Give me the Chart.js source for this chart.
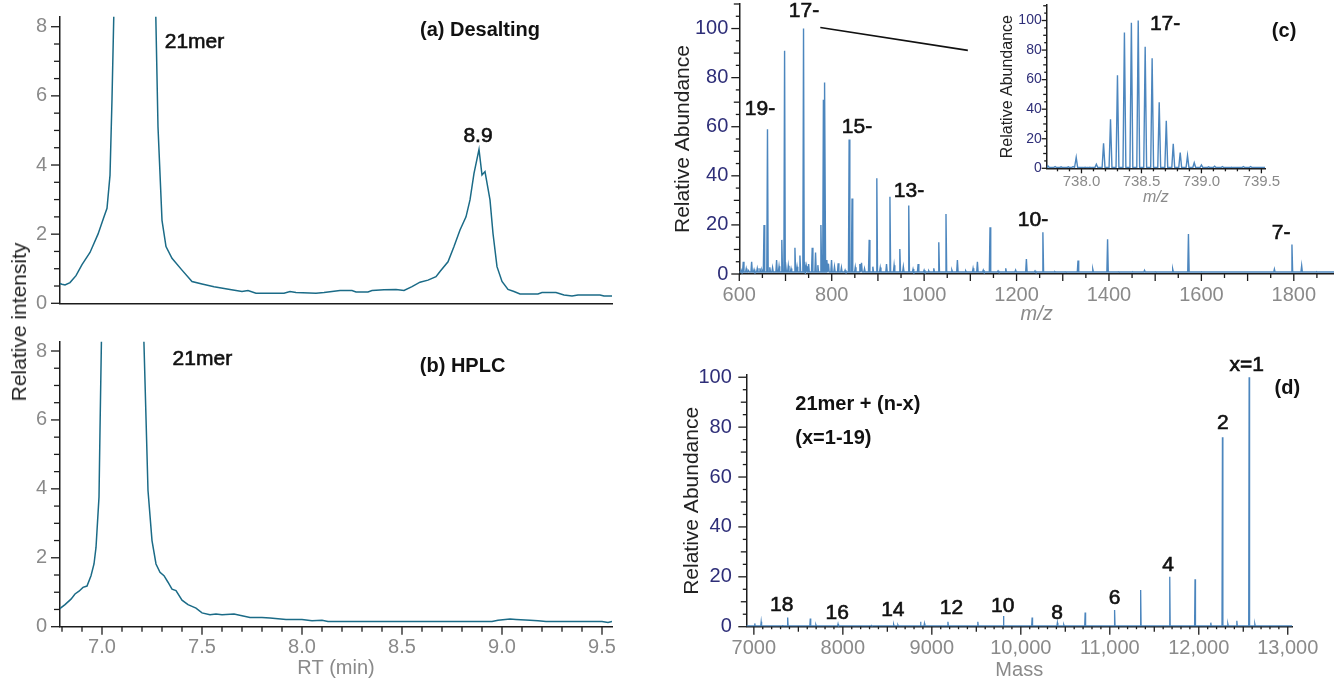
<!DOCTYPE html>
<html>
<head>
<meta charset="utf-8">
<script src="https://cdn.jsdelivr.net/npm/chart.js@4.4.1/dist/chart.umd.min.js"></script>
<style>
  html, body { margin: 0; padding: 0; background: #fff; overflow: hidden; }
  #fig { position: relative; width: 1334px; height: 678px; overflow: hidden; font-family: 'Liberation Sans', Arial, sans-serif; }
  #fig canvas { position: absolute; }
  #ylab-ab { position: absolute; left: 19px; top: 322px; transform: translate(-50%, -50%) rotate(-90deg); font-size: 21px; color: #222; white-space: nowrap; }
</style>
</head>
<body>
<div id="fig">
  <canvas id="chart-a" width="620" height="310" style="left:0px;top:0px"></canvas>
  <canvas id="chart-b" width="620" height="355" style="left:0px;top:325px"></canvas>
  <canvas id="chart-c" width="674" height="326" style="left:660px;top:0px"></canvas>
  <canvas id="chart-c-inset" width="300" height="207" style="left:990px;top:0px"></canvas>
  <canvas id="chart-d" width="674" height="342" style="left:660px;top:340px"></canvas>
  <div id="ylab-ab">Relative intensity</div>
</div>
<script>
// ---- data ----

// (a) desalting: retention time (min) vs relative intensity, main peak runs off scale
const rtA = [6.785, 6.80, 6.815, 6.84, 6.87, 6.90, 6.94, 6.98, 7.01, 7.025, 7.04, 7.05, 7.06, 7.16, 7.268,
  7.28, 7.30, 7.32, 7.35, 7.40, 7.45, 7.50, 7.56, 7.64, 7.70, 7.73, 7.77, 7.91, 7.94, 7.97, 8.07, 8.11,
  8.19, 8.25, 8.27, 8.33, 8.35, 8.41, 8.47, 8.51, 8.55, 8.59, 8.63, 8.67, 8.69, 8.73, 8.76, 8.79, 8.82,
  8.84, 8.86, 8.885, 8.90, 8.915, 8.94, 8.955, 8.975, 9.00, 9.03, 9.06, 9.09, 9.18, 9.20, 9.27, 9.31,
  9.35, 9.38, 9.49, 9.51, 9.55];
const intA = [0.58, 0.55, 0.53, 0.60, 0.80, 1.12, 1.47, 2.0, 2.5, 2.75, 3.7, 5.9, 8.6, 60, 8.6,
  5.1, 2.4, 1.64, 1.3, 0.96, 0.63, 0.56, 0.48, 0.40, 0.34, 0.37, 0.29, 0.29, 0.34, 0.31, 0.29, 0.31,
  0.37, 0.37, 0.33, 0.33, 0.37, 0.39, 0.40, 0.37, 0.48, 0.61, 0.67, 0.77, 0.92, 1.20, 1.64, 2.12, 2.5,
  2.99, 3.76, 4.45, 3.71, 3.81, 2.99, 2.02, 1.06, 0.63, 0.40, 0.34, 0.27, 0.27, 0.31, 0.31, 0.24,
  0.21, 0.24, 0.24, 0.21, 0.21];

// (b) HPLC
const rtB = [6.786, 6.815, 6.845, 6.865, 6.885, 6.905, 6.925, 6.945, 6.96, 6.97, 6.985, 6.99, 6.998, 7.10,
  7.208, 7.23, 7.25, 7.27, 7.29, 7.31, 7.33, 7.35, 7.37, 7.40, 7.43, 7.47, 7.50, 7.54, 7.57, 7.60, 7.66,
  7.70, 7.74, 7.80, 7.84, 7.92, 8.00, 8.05, 8.10, 8.13, 8.95, 8.98, 9.04, 9.07, 9.14, 9.18, 9.22, 9.50,
  9.53, 9.55];
const intB = [0.51, 0.64, 0.80, 0.95, 1.03, 1.14, 1.18, 1.48, 1.82, 2.3, 3.76, 5.7, 8.6, 60,
  8.6, 3.95, 2.5, 1.82, 1.58, 1.48, 1.29, 1.09, 1.05, 0.77, 0.64, 0.54, 0.40, 0.35, 0.37, 0.35, 0.37,
  0.32, 0.27, 0.27, 0.25, 0.21, 0.21, 0.17, 0.19, 0.15, 0.15, 0.19, 0.22, 0.21, 0.19, 0.17, 0.15, 0.15,
  0.12, 0.15];

// (c) ESI spectrum: peak m/z and relative abundance
const mzC = [604, 608.6, 615, 620, 626.7, 632, 638.9, 644.7, 649, 653.5, 661, 666, 672, 680.7, 686, 692,
  698, 700.5, 706, 712, 720.4, 725, 731.2, 739, 741.5, 745, 750, 757.8, 765, 770, 776.6, 782, 785.3,
  789.5, 793, 799.6, 806, 814, 821, 829, 837.7, 844, 851, 860.9, 864.5, 871, 881.1, 889, 897.6, 905,
  918.6, 926, 935, 947.4, 955, 966.7, 976, 987, 1000, 1010, 1020.9, 1031.7, 1047.3, 1060, 1072, 1090,
  1105.9, 1115.3, 1128, 1142.6, 1160, 1176.6, 1198, 1221.3, 1240, 1257, 1283, 1305, 1333, 1365, 1397,
  1420, 1452, 1477, 1500, 1538, 1572, 1600, 1652, 1700, 1758, 1796, 1817, 1850, 1872];
const abC = [1.6, 5.0, 2.2, 1.4, 5.0, 1.8, 2.3, 2.3, 1.6, 20, 59, 2.7, 2.6, 5.7, 3.2, 13.9,
  91, 5.0, 3.4, 2.2, 10.7, 3.0, 7.5, 100, 5.0, 3.2, 4.0, 10.7, 8.7, 3.6, 20, 71, 78,
  5.7, 4.2, 5.7, 3.0, 4.4, 2.6, 1.6, 54.8, 30.8, 2.8, 4.1, 4.6, 2.2, 13.9, 3.0, 39, 2.6,
  4.1, 31.5, 3.6, 10.2, 3.0, 27.9, 2.0, 4.1, 1.6, 1.3, 2.3, 12.9, 24.4, 1.6, 5.7, 1.3,
  2.3, 5.0, 1.6, 19, 1.3, 2.3, 1.6, 6.1, 1.3, 17, 1.0, 0.9, 5.5, 2.0, 14.2,
  0.9, 0.9, 1.5, 0.9, 2.0, 16.3, 0.9, 0.8, 0.8, 2.0, 12, 3.4, 0.9, 0.8];
const baseC = 0.8;

// (c) inset: isotope envelope of the 17- ion
const mzInset = [737.72, 737.78, 737.83, 737.89, 737.93, 737.956, 738.03, 738.07, 738.124, 738.184,
  738.242, 738.300, 738.358, 738.416, 738.473, 738.531, 738.589, 738.648, 738.707, 738.765, 738.823,
  738.884, 738.94, 739.0, 739.06, 739.11, 739.175, 739.25, 739.35, 739.41];
const abInset = [1.6, 1.2, 1.0, 1.0, 1.2, 7.4, 0.8, 0.8, 2.7, 16.9,
  33.2, 63, 91.9, 98.4, 100, 82.2, 74.5, 44.7, 32.1, 16.5, 10.6,
  8.6, 3.8, 2.3, 1.0, 1.4, 1.2, 0.8, 1.2, 1.2];
const baseInset = 0.5;

// (d) deconvoluted masses
const massD = [7010, 7082, 7322, 7380, 7634, 7697, 7946, 8321, 8571, 8619, 8873, 8917, 9181, 9517, 9805,
  10127, 10411, 10483, 10723, 11054, 11347, 11674, 11958, 12135, 12266, 12327, 12428, 12566, 12630];
const abD = [1.3, 2.0, 0.7, 3.7, 3.3, 0.8, 1.1, 0.5, 0.9, 0.7, 2.0, 1.3, 2.0, 2.0, 4.3,
  3.7, 1.6, 0.8, 5.7, 6.7, 14.7, 20.0, 19.0, 1.6, 75.9, 1.1, 2.4, 100, 1.1];
const baseD = 0.3;

// tick labels
const ticksRT = [7.0, 7.5, 8.0, 8.5, 9.0, 9.5];
const ticksInt = [0, 2, 4, 6, 8];
const ticksMz = [600, 800, 1000, 1200, 1400, 1600, 1800];
const ticksMzInset = [738.0, 738.5, 739.0, 739.5];
const ticksMass = [7000, 8000, 9000, 10000, 11000, 12000, 13000];
const ticksAb = [0, 20, 40, 60, 80, 100];

// ---- drawing ----
const FONT = "'Liberation Sans', Arial, Helvetica, sans-serif";
const GREY = '#8a8a8a';
const NAVY = '#2e2e78';
const INK = '#1c1c1c';
const TEAL = '#1b6b87';
const STEEL = '#4c86be';
Chart.defaults.font.family = FONT;

function trace(xs, ys) {
  return xs.map((x, i) => ({x: x, y: ys[i]}));
}

// stick spectrum: each peak is a narrow spike up from the baseline
function spikes(pos, h, w, base, lo, hi) {
  const order = pos.map((_, i) => i).sort((a, b) => pos[a] - pos[b]);
  const pts = [{x: lo, y: base}];
  order.forEach(i => {
    pts.push({x: pos[i] - w, y: base}, {x: pos[i], y: h[i]}, {x: pos[i] + w, y: base});
  });
  pts.push({x: hi, y: base});
  return pts;
}

// minor/major tick marks, drawn through the scales
function tickMarks(levels) {
  return {
    id: 'tickMarks',
    afterDraw(chart) {
      const {ctx, chartArea} = chart;
      ctx.save();
      ctx.strokeStyle = INK;
      ctx.lineWidth = 1.3;
      ['x', 'y'].forEach(id => {
        if (!levels[id]) return;
        const s = chart.scales[id];
        const done = new Set();
        levels[id].forEach(([step, len]) => {
          for (let k = Math.ceil(s.min / step - 1e-9); k * step <= s.max + 1e-9; k++) {
            const v = +(k * step).toFixed(6);
            if (done.has(v)) continue;
            done.add(v);
            const p = s.getPixelForValue(v);
            ctx.beginPath();
            if (id === 'x') {
              ctx.moveTo(p, chartArea.bottom);
              ctx.lineTo(p, chartArea.bottom + len);
            } else {
              ctx.moveTo(chartArea.left, p);
              ctx.lineTo(chartArea.left - len, p);
            }
            ctx.stroke();
          }
        });
      });
      ctx.restore();
    }
  };
}

// peak labels and the zoom connector, placed in data units
function textMarks(items) {
  return {
    id: 'textMarks',
    afterDraw(chart) {
      const {ctx, scales: {x, y}} = chart;
      ctx.save();
      items.forEach(t => {
        if (t.to) {
          ctx.strokeStyle = '#111';
          ctx.lineWidth = 1.6;
          ctx.beginPath();
          ctx.moveTo(x.getPixelForValue(t.x), y.getPixelForValue(t.y));
          ctx.lineTo(x.getPixelForValue(t.to[0]), y.getPixelForValue(t.to[1]));
          ctx.stroke();
          return;
        }
        const px = x.getPixelForValue(t.x), py = y.getPixelForValue(t.y);
        ctx.font = (t.bold ? 'bold ' : '') + (t.size || 21) + 'px ' + FONT;
        ctx.fillStyle = '#111';
        ctx.textAlign = t.align || 'center';
        ctx.textBaseline = 'middle';
        ctx.fillText(t.text, px, py);
        if (!t.bold) {
          // the figure's labels are a medium weight
          ctx.strokeStyle = '#111';
          ctx.lineWidth = 0.6;
          ctx.strokeText(t.text, px, py);
        }
      });
      ctx.restore();
    }
  };
}

function axis(dir, o) {
  return {
    type: 'linear',
    min: o.min,
    max: o.max,
    afterFit: s => {
      if (dir === 'x') s.height = o.size; else s.width = o.size;
      s.paddingLeft = s.paddingRight = s.paddingTop = s.paddingBottom = 0;
    },
    afterBuildTicks: s => { s.ticks = (o.ticks || []).map(v => ({value: v})); },
    grid: {display: false, drawTicks: false},
    border: {display: true, color: INK, width: 1.5},
    ticks: {
      display: !!o.ticks,
      autoSkip: false,
      maxRotation: 0,
      padding: o.pad || 0,
      color: o.color || GREY,
      font: {size: o.font || 20},
      callback: o.format || (v => String(v))
    },
    title: o.title ? {
      display: true,
      text: o.title,
      color: o.titleColor || GREY,
      padding: 0,
      font: {size: o.titleSize || 21, style: o.italic ? 'italic' : 'normal'}
    } : {display: false}
  };
}

function buildChart(id, o) {
  const el = document.getElementById(id);
  const left = parseFloat(el.style.left), top = parseFloat(el.style.top);
  o.x.size = top + el.height - o.area.B;
  o.y.size = o.area.L - left - o.padLeft;
  return new Chart(el, {
    type: 'line',
    data: {datasets: o.datasets.map(d => Object.assign({
      borderWidth: 1.5, pointRadius: 0, pointHitRadius: 0, tension: 0, fill: false
    }, d))},
    plugins: [tickMarks(o.marks), textMarks(o.texts)],
    options: {
      responsive: false,
      animation: false,
      events: [],
      layout: {padding: {left: o.padLeft, top: o.area.T - top, right: left + el.width - o.area.R, bottom: 0}},
      plugins: {legend: {display: false}, tooltip: {enabled: false}},
      scales: {x: axis('x', o.x), y: axis('y', o.y)}
    }
  });
}

const fmtInt = v => String(v);
const fmt1 = v => v.toFixed(1);
const fmtMass = v => v >= 10000 ? v.toLocaleString('en-US') : String(v);

// (a)
buildChart('chart-a', {
  area: {L: 60, T: 16.7, R: 612, B: 303.3},
  padLeft: 0,
  datasets: [{data: trace(rtA, intA), borderColor: TEAL}],
  x: {min: 6.79, max: 9.55},
  y: {min: 0, max: 8.29, ticks: ticksInt, pad: 13, format: fmtInt},
  marks: {y: [[2, 9], [0.5, 6]]},
  texts: [
    {text: '21mer', x: 7.3135, y: 7.54, align: 'left'},
    {text: '(a) Desalting', x: 8.59, y: 7.88, align: 'left', bold: true, size: 20},
    {text: '8.9', x: 8.88, y: 4.84}
  ]
});

// (b)
buildChart('chart-b', {
  area: {L: 60, T: 341.7, R: 612, B: 626.7},
  padLeft: 0,
  datasets: [{data: trace(rtB, intB), borderColor: TEAL}],
  x: {min: 6.79, max: 9.55, ticks: ticksRT, pad: 9, format: fmt1, title: 'RT (min)', titleSize: 20},
  y: {min: 0, max: 8.27, ticks: ticksInt, pad: 13, format: fmtInt},
  marks: {x: [[0.5, 8], [0.1, 5]], y: [[2, 9], [0.5, 6]]},
  texts: [
    {text: '21mer', x: 7.353, y: 7.77, align: 'left'},
    {text: '(b) HPLC', x: 8.589, y: 7.55, align: 'left', bold: true, size: 20}
  ]
});

// (c)
buildChart('chart-c', {
  area: {L: 739.3, T: 4, R: 1334, B: 274},
  padLeft: 10.9,
  datasets: [{data: spikes(mzC, abC, 1.5, baseC, 600, 1887), borderColor: STEEL, borderWidth: 1.4}],
  x: {min: 600, max: 1887, ticks: ticksMz, pad: 9, format: fmtInt, title: 'm/z', titleSize: 20, italic: true},
  y: {min: 0, max: 110, ticks: ticksAb, pad: 11, color: NAVY, format: fmtInt,
      title: 'Relative Abundance', titleColor: '#222'},
  marks: {x: [[100, 7], [50, 4]], y: [[20, 8], [10, 5.5], [5, 3.5]]},
  texts: [
    {text: '17-', x: 740, y: 107.1},
    {text: '19-', x: 644.8, y: 67.2},
    {text: '15-', x: 854.8, y: 59.8},
    {text: '13-', x: 967.3, y: 33.6},
    {text: '10-', x: 1235.7, y: 21.8},
    {text: '7-', x: 1772.5, y: 16.8},
    {text: '(c)', x: 1779, y: 98.6, bold: true, size: 20},
    {x: 775.3, y: 100.4, to: [1094.6, 91.1]}
  ]
});

// (c) inset
buildChart('chart-c-inset', {
  area: {L: 1046.7, T: 5, R: 1265, B: 168.3},
  padLeft: 7.7,
  datasets: [{data: spikes(mzInset, abInset, 0.012, baseInset, 737.71, 739.53), borderColor: STEEL, borderWidth: 1.4}],
  x: {min: 737.71, max: 739.53, ticks: ticksMzInset, pad: 4.4, font: 15, format: fmt1,
      title: 'm/z', titleSize: 16, italic: true},
  y: {min: 0, max: 110.5, ticks: ticksAb, pad: 5, font: 14, color: NAVY, format: fmtInt,
      title: 'Relative Abundance', titleSize: 16, titleColor: '#222'},
  marks: {x: [[0.5, 5], [0.1, 3]], y: [[20, 5], [10, 3.5], [5, 2.5]]},
  texts: [
    {text: '17-', x: 738.697, y: 97.8}
  ]
});

// (d)
buildChart('chart-d', {
  area: {L: 746.3, T: 375, R: 1292.2, B: 626.7},
  padLeft: 19.4,
  datasets: [{data: spikes(massD, abD, 5, baseD, 6915, 13050), borderColor: STEEL, borderWidth: 1.3}],
  x: {min: 6915, max: 13050, ticks: ticksMass, pad: 9.3, format: fmtMass, title: 'Mass', titleSize: 20},
  y: {min: 0, max: 100.9, ticks: ticksAb, pad: 14.5, color: NAVY, format: fmtInt,
      title: 'Relative Abundance', titleColor: '#222'},
  marks: {x: [[1000, 8], [500, 5], [100, 2.5]], y: [[20, 8], [10, 5.5], [5, 3.5]]},
  texts: [
    {text: 'x=1', x: 12539, y: 104.9},
    {text: '(d)', x: 12995, y: 95.6, bold: true, size: 20},
    {text: '2', x: 12270, y: 81.5},
    {text: '4', x: 11655, y: 24.7},
    {text: '6', x: 11055, y: 11.4},
    {text: '8', x: 10407, y: 5.6},
    {text: '10', x: 9797, y: 8.4},
    {text: '12', x: 9220, y: 7.4},
    {text: '14', x: 8562, y: 6.7},
    {text: '16', x: 7937, y: 5.6},
    {text: '18', x: 7312, y: 8.7},
    {text: '21mer + (n-x)', x: 7466, y: 89.2, align: 'left', bold: true, size: 20},
    {text: '(x=1-19)', x: 7466, y: 75.3, align: 'left', bold: true, size: 20}
  ]
});
</script>
</body>
</html>
